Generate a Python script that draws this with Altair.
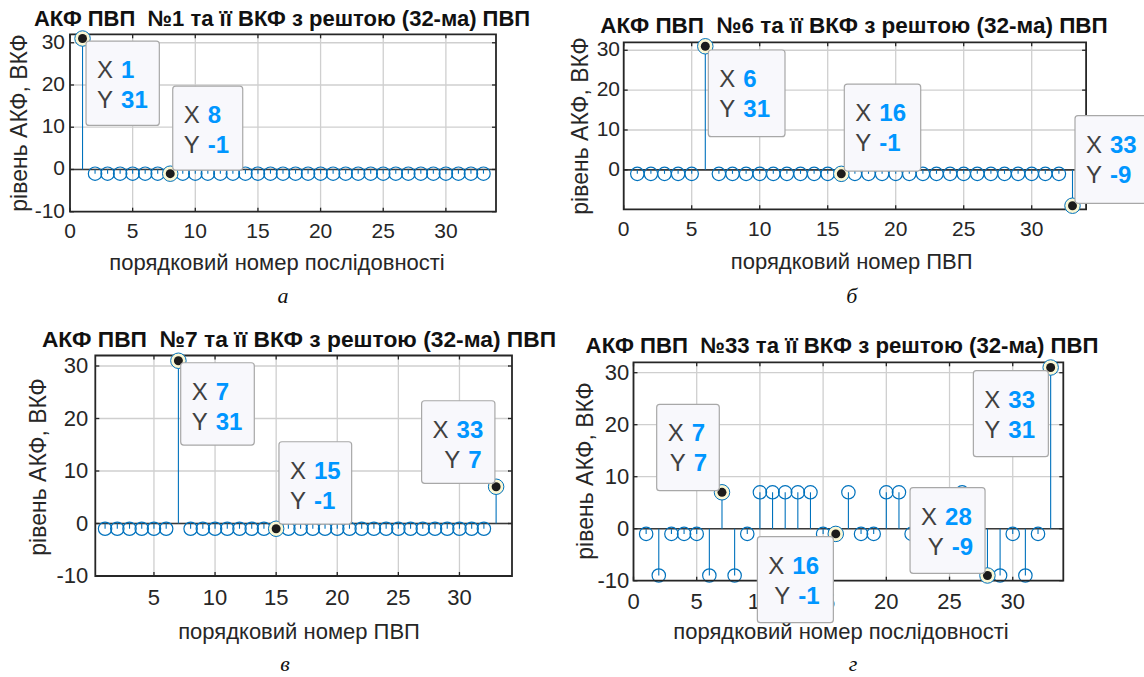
import altair as alt
import pandas as pd

# ---------------- data ----------------
idx = list(range(1, 34))
acf_1 = [31] + [-1] * 32
acf_6 = [-1] * 5 + [31] + [-1] * 26 + [-9]
acf_7 = [-1] * 6 + [31] + [-1] * 25 + [7]
acf_33 = [-1, -9, -1, -1, -1, -9, 7, -9, -1, 7, 7, 7, 7, 7, -1, -1, 7, -1, -1, 7,
          7, -1, -1, -1, -1, 7, -1, -9, -9, -1, -9, -1, 31]

tip_x_1 = [1, 8]
tip_x_6 = [6, 16, 33]
tip_x_7 = [7, 15, 33]
tip_x_33 = [7, 16, 28, 33]

title_1 = "АКФ ПВП\u00a0\u00a0№1 та її ВКФ з рештою (32-ма) ПВП"
title_6 = "АКФ ПВП\u00a0\u00a0№6 та її ВКФ з рештою (32-ма) ПВП"
title_7 = "АКФ ПВП\u00a0\u00a0№7 та її ВКФ з рештою (32-ма) ПВП"
title_33 = "АКФ ПВП\u00a0\u00a0№33 та її ВКФ з рештою (32-ма) ПВП"
x_title_a = "порядковий номер послідовності"
x_title_b = "порядковий номер ПВП"
y_title = "рівень АКФ, ВКФ"
captions = ["а", "б", "в", "г"]

x_ticks = [0, 5, 10, 15, 20, 25, 30]
x_ticks_c = [5, 10, 15, 20, 25, 30]
y_ticks = [-10, 0, 10, 20, 30]
y_ticks_b = [0, 10, 20, 30]

# ---------------- style ----------------
FONT = "Liberation Sans"
STEM = "#0072BD"
GRID = "#cfcfcf"
AX = "#262626"
TIPVAL = "#0096ff"
TIPLAB = "#404040"

layout = [
    dict(series=acf_1, tips=tip_x_1, title=title_1, xlabel=x_title_a, cap=captions[0],
         xt=x_ticks, yt=y_ticks, xdom=[0, 34], ydom=[-10, 32],
         xr=[70, 496], yr=[211.7, 34.3], tfs=21, ttl=22,
         title_at=(282, 26), xtl_dy=20, ytl_dx=-5, xlab_at=(277, 263),
         ylab_at=(19.5, 123), cap_at=(283, 296),
         boxes=[(3.5, 76.8, 2.6, 86.9, 0), (2.5, 72.5, -87.5, -3.5, 0)]),
    dict(series=acf_6, tips=tip_x_6, title=title_6, xlabel=x_title_b, cap=captions[1],
         xt=x_ticks, yt=y_ticks_b, xdom=[0, 34], ydom=[-9.9, 32],
         xr=[623.7, 1086.1], yr=[209.3, 42.3], tfs=21, ttl=22.5,
         title_at=(854, 32.7), xtl_dy=20.7, ytl_dx=-3.7, xlab_at=(851.7, 261.7),
         ylab_at=(581, 126), cap_at=(851.7, 296),
         boxes=[(3, 79.7, 3.7, 90.4, 0), (3, 79.4, -89.7, -2.8, 0), (2.5, 79, -90, -2.4, 0)]),
    dict(series=acf_7, tips=tip_x_7, title=title_7, xlabel=x_title_b, cap=captions[2],
         xt=x_ticks_c, yt=y_ticks, xdom=[0.2, 34.3], ydom=[-10, 32],
         xr=[95.3, 512.0], yr=[576, 355.5], tfs=22, ttl=22.8,
         title_at=(299, 346.7), xtl_dy=22.3, ytl_dx=-7, xlab_at=(299, 631.7),
         ylab_at=(39.3, 467), cap_at=(285, 664),
         boxes=[(2.3, 75.9, 2, 84.3, 0), (2.8, 75.5, -87, -4.7, 0), (-74.5, -1.2, -86, -3.4, 11.7)]),
    dict(series=acf_33, tips=tip_x_33, title=title_33, xlabel=x_title_a, cap=captions[3],
         xt=x_ticks, yt=y_ticks, xdom=[0, 34], ydom=[-10, 32],
         xr=[633.5, 1063.3], yr=[580.7, 362.3], tfs=22, ttl=22.2,
         title_at=(842, 353.3), xtl_dy=21, ytl_dx=-4.2, xlab_at=(841, 631.7),
         ylab_at=(586, 471), cap_at=(853, 664),
         boxes=[(-65.3, -2.7, -88, -1.6, 2), (-78.4, -2.4, 2.8, 88.8, 6),
                (-77.4, -2.4, -87.8, -2.2, 6.6), (-77.3, -2.3, 3.2, 89.2, 0)]),
]


def X(p, f="x"):
    return alt.X(f"{f}:Q", scale=alt.Scale(domain=p["xdom"], range=p["xr"], nice=False, zero=False), axis=None)


def Y(p, f="y"):
    return alt.Y(f"{f}:Q", scale=alt.Scale(domain=p["ydom"], range=p["yr"], nice=False, zero=False), axis=None)


ONE = pd.DataFrame({"a": [0]})


def panel_layers(p):
    L = []
    ys = p["series"]
    x0, x1 = p["xdom"]
    y0, y1 = p["ydom"]

    # grid
    vg = pd.DataFrame({"x": p["xt"], "lo": y0, "hi": y1})
    L.append(alt.Chart(vg).mark_rule(color=GRID, strokeWidth=1.3).encode(x=X(p), y=Y(p, "lo"), y2="hi:Q"))
    hg = pd.DataFrame({"y": p["yt"], "lo": x0, "hi": x1})
    L.append(alt.Chart(hg).mark_rule(color=GRID, strokeWidth=1.3).encode(y=Y(p), x=X(p, "lo"), x2="hi:Q"))

    # baseline
    bl = pd.DataFrame({"y": [0], "lo": [x0], "hi": [x1]})
    L.append(alt.Chart(bl).mark_rule(color="#3a3a3a", strokeWidth=1.6).encode(y=Y(p), x=X(p, "lo"), x2="hi:Q"))

    # stems
    sd = pd.DataFrame({"x": idx, "y": ys, "z": 0})
    L.append(alt.Chart(sd).mark_rule(color=STEM, strokeWidth=1.1).encode(x=X(p), y=Y(p), y2="z:Q"))
    L.append(alt.Chart(sd).mark_point(shape="circle", filled=False, size=180, color=STEM,
                                      strokeWidth=1.2, opacity=1).encode(x=X(p), y=Y(p)))

    # axes box
    bx = pd.DataFrame({"lo": [x0], "hi": [x1], "b": [y0], "t": [y1]})
    L.append(alt.Chart(bx).mark_rect(fillOpacity=0, stroke=AX, strokeWidth=1.8).encode(
        x=X(p, "lo"), x2="hi:Q", y=Y(p, "b"), y2="t:Q"))

    # tick marks (inside)
    tk = pd.DataFrame({"x": p["xt"], "lo": y0, "hi": y1})
    L.append(alt.Chart(tk).mark_rule(color=AX, strokeWidth=1.3, y2Offset=-4).encode(x=X(p), y=Y(p, "lo"), y2="lo:Q"))
    L.append(alt.Chart(tk).mark_rule(color=AX, strokeWidth=1.3, y2Offset=4).encode(x=X(p), y=Y(p, "hi"), y2="hi:Q"))
    tky = pd.DataFrame({"y": p["yt"], "lo": x0, "hi": x1})
    L.append(alt.Chart(tky).mark_rule(color=AX, strokeWidth=1.3, x2Offset=4).encode(y=Y(p), x=X(p, "lo"), x2="lo:Q"))
    L.append(alt.Chart(tky).mark_rule(color=AX, strokeWidth=1.3, x2Offset=-4).encode(y=Y(p), x=X(p, "hi"), x2="hi:Q"))

    # tick labels
    xl = pd.DataFrame({"x": p["xt"], "lo": y0, "txt": [str(v) for v in p["xt"]]})
    L.append(alt.Chart(xl).mark_text(font=FONT, fontSize=p["tfs"], color=AX, align="center", baseline="middle",
                                     dy=p["xtl_dy"]).encode(x=X(p), y=Y(p, "lo"), text="txt:N"))
    yl = pd.DataFrame({"y": p["yt"], "lo": x0, "txt": [str(v) for v in p["yt"]]})
    L.append(alt.Chart(yl).mark_text(font=FONT, fontSize=p["tfs"], color=AX, align="right", baseline="middle",
                                     dx=p["ytl_dx"]).encode(y=Y(p), x=X(p, "lo"), text="txt:N"))

    # titles and caption
    tx, ty = p["title_at"]
    L.append(alt.Chart(ONE).mark_text(text=p["title"], font=FONT, fontSize=p["ttl"], fontWeight="bold",
                                      color="#111111", align="center", baseline="alphabetic").encode(
        x=alt.value(tx), y=alt.value(ty)))
    lx, ly = p["xlab_at"]
    L.append(alt.Chart(ONE).mark_text(text=p["xlabel"], font=FONT, fontSize=22, color=AX,
                                      align="center", baseline="middle").encode(x=alt.value(lx), y=alt.value(ly)))
    vx, vy = p["ylab_at"]
    L.append(alt.Chart(ONE).mark_text(text=y_title, font=FONT, fontSize=23, color=AX, angle=270,
                                      align="center", baseline="middle").encode(x=alt.value(vx), y=alt.value(vy)))
    cx, cy = p["cap_at"]
    L.append(alt.Chart(ONE).mark_text(text=p["cap"], font="Liberation Serif", fontSize=22, fontStyle="italic",
                                      color="#111111", align="center", baseline="middle").encode(
        x=alt.value(cx), y=alt.value(cy)))

    # datatip markers
    td = pd.DataFrame({"x": p["tips"], "y": [ys[t - 1] for t in p["tips"]]})
    L.append(alt.Chart(td).mark_point(shape="circle", filled=True, size=240, fill="#fbf7d4", stroke=STEM,
                                      strokeWidth=1, opacity=1).encode(x=X(p), y=Y(p)))
    L.append(alt.Chart(td).mark_point(shape="circle", filled=True, size=80, color="#1c1c1c",
                                      opacity=1).encode(x=X(p), y=Y(p)))

    # datatip boxes
    for t, (dx0, dx1, dy0, dy1, ind) in zip(p["tips"], p["boxes"]):
        v = ys[t - 1]
        d = pd.DataFrame({"x": [t], "y": [v], "vx": [str(t)], "vy": [str(v)]})
        L.append(alt.Chart(d).mark_rect(fill="#f8f8fc", stroke="#a8a8a8", strokeWidth=1.2, cornerRadius=3,
                                        xOffset=dx0, x2Offset=dx1, yOffset=dy0, y2Offset=dy1).encode(
            x=X(p), x2="x:Q", y=Y(p), y2="y:Q"))
        for lab, fld, ddy, ind_ in (("X", "vx", 30, 0), ("Y", "vy", 60, ind)):
            L.append(alt.Chart(d).mark_text(text=lab, font=FONT, fontSize=24, color=TIPLAB, align="left",
                                            baseline="middle", dx=dx0 + 11 + ind_, dy=dy0 + ddy).encode(
                x=X(p), y=Y(p)))
            L.append(alt.Chart(d).mark_text(font=FONT, fontSize=24, fontWeight="bold", color=TIPVAL, align="left",
                                            baseline="middle", dx=dx0 + 35 + ind_, dy=dy0 + ddy).encode(
                x=X(p), y=Y(p), text=f"{fld}:N"))
    return L


layers = []
for p in layout:
    layers.extend(panel_layers(p))

chart = alt.layer(*layers).resolve_scale(x="independent", y="independent").properties(
    width=1144, height=677, autosize=alt.AutoSizeParams(type="none"), padding=0, background="white"
).configure_view(stroke=None)

chart.save("out.html", embed_options={"renderer": "svg", "actions": False})
